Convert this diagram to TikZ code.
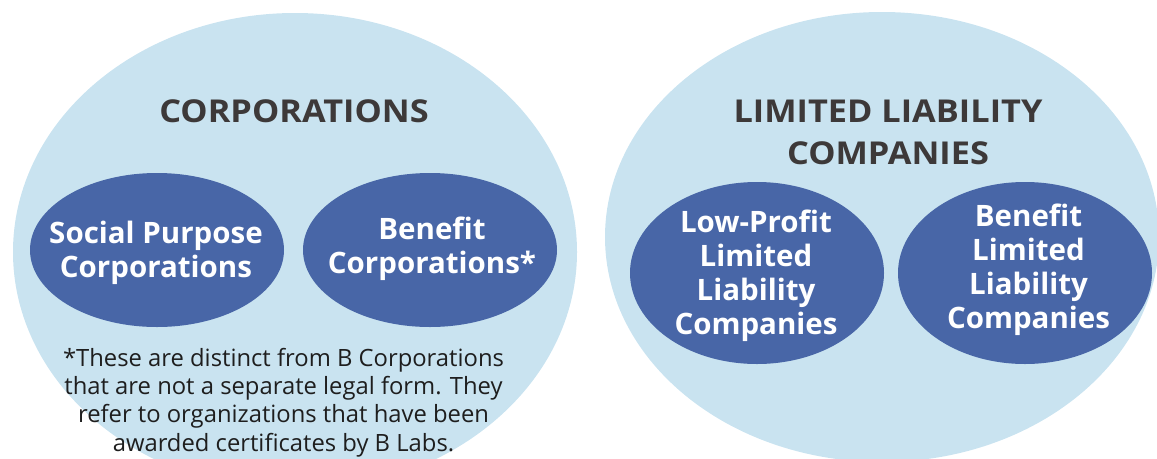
\documentclass[tikz,border=0pt]{standalone}
\usepackage{fontspec}
\setmainfont{Open Sans}
\newfontfamily\titlefont{Open Sans}[FakeStretch=1.09]
\usepackage{tikz}
\usetikzlibrary{shapes}

\definecolor{paleblue}{HTML}{C9E3F0}
\definecolor{deepblue}{HTML}{4866A7}
\definecolor{titlegray}{HTML}{3D3939}
\definecolor{notegray}{HTML}{1E1E1E}

\begin{document}
\begin{tikzpicture}[x=1pt,y=-1pt]
\useasboundingbox (0,0) rectangle (1157,458);
\clip (0,0) rectangle (1157,458);

% the two legal families
\begin{scope}[every node/.style={ellipse,fill=paleblue,inner sep=0pt}]
    \node[minimum width=564pt,minimum height=478pt] (C) at (295,252) {};
    \node[minimum width=554pt,minimum height=450pt] (L) at (882,237) {};
\end{scope}

% the forms inside them
\begin{scope}[every node/.style={ellipse,fill=deepblue,inner sep=0pt,minimum width=254pt}]
    \node[minimum height=154pt] (SP) at (157,250) {};
    \node[minimum height=154pt] (BC) at (430,250) {};
    \node[minimum height=182pt] (LP) at (757,273) {};
    \node[minimum height=182pt] (BL) at (1025,273) {};
\end{scope}

\begin{scope}[every node/.style={align=center,inner sep=0pt,text=white,
              font=\bfseries\fontsize{29.5}{34}\selectfont}]
    \node (sp) at (156,252.5) {Social Purpose\\Corporations};
    \node (bc) at (432,249) {Benefit\\Corporations*};
    \node (lp) at (756,275.5) {Low-Profit\\Limited\\Liability\\Companies};
    \node (bl) at (1028.5,270) {Benefit\\Limited\\Liability\\Companies};
\end{scope}

\begin{scope}[every node/.style={align=center,inner sep=0pt,text=titlegray,
              font=\titlefont\bfseries\fontsize{31.5}{41.7}\selectfont}]
    \node (c) at (294,111.3) {CORPORATIONS};
    \node (l) at (888,132.5) {LIMITED LIABILITY\\COMPANIES};
\end{scope}

\node[align=center,inner sep=0pt,text=notegray,font=\fontsize{23.8}{28.3}\selectfont]
    (n) at (283.5,402.3) {*These are distinct from B Corporations\\that are not a separate legal form. They\\refer to organizations that have been\\awarded certificates by B Labs.};
\end{tikzpicture}
\end{document}
